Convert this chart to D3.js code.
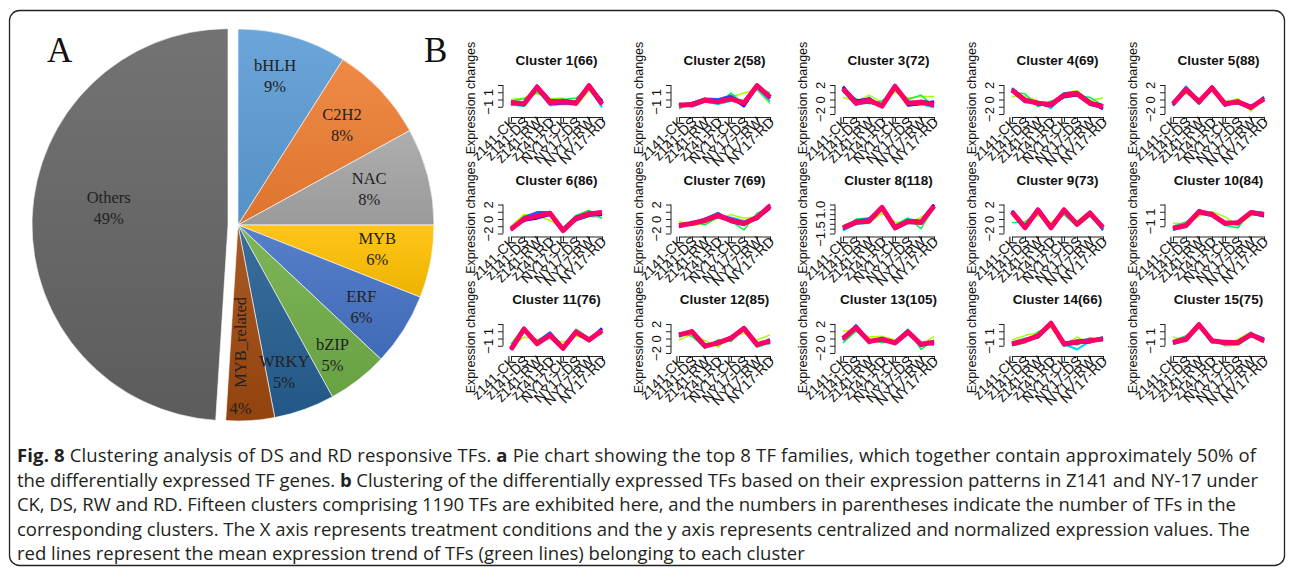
<!DOCTYPE html>
<html>
<head>
<meta charset="utf-8">
<script src="https://cdn.jsdelivr.net/npm/d3@7"></script>
<style>
  body { margin: 0; background: #fff; }
  svg { font-family: "Liberation Sans", Arial, sans-serif; }
</style>
</head>
<body>
<svg id="fig" width="1295" height="578"></svg>
<script>

// ---- panel A : pie ----
const pieLabels = ["bHLH", "C2H2", "NAC", "MYB", "ERF", "bZIP", "WRKY", "MYB_related", "Others"];
const pieValues = [9, 8, 8, 6, 6, 5, 5, 4, 49];
const pieColors = ["#5B9BD5", "#ED7D31", "#A5A5A5", "#FFC000", "#4472C4", "#70AD47", "#255E91", "#9E480E", "#636363"];

// ---- panel B : clusters ----
const conditions = ["z141-CK", "z141-DS", "z141-RW", "z141-RD", "NY17-CK", "NY17-DS", "NY17-RW", "NY17-RD"];
const clusterSizes = [66, 58, 72, 69, 88, 86, 69, 118, 73, 84, 76, 85, 105, 66, 75];
const axisTypes = ["a", "a", "b", "b", "b", "b", "b", "c", "b", "a", "a", "b", "b", "a", "a"];

// red line = cluster mean
const meanLines = [
  [-0.4, -0.6, 1.7, -0.4, -0.3, -0.5, 1.9, -0.6],
  [-0.8, -0.7, -0.1, -0.3, 0.1, -0.5, 1.9, 0.3],
  [1.5, -0.5, -0.1, -0.9, 1.8, -0.5, -0.4, -0.7],
  [1.3, -0.1, -0.5, -0.7, 0.6, 0.8, -0.5, -1.0],
  [-0.6, 1.4, -0.3, 1.6, -0.6, -0.3, -1.1, 0.1],
  [-1.4, 0.0, 0.4, 0.8, -1.6, 0.1, 0.7, 0.9],
  [-0.9, -0.6, -0.2, 0.5, -0.2, -0.6, 0.2, 1.8],
  [-0.9, -0.35, -0.2, 1.2, -0.9, -0.25, -0.35, 1.35],
  [1.0, -1.2, 1.25, -1.2, 1.25, -0.75, 0.8, -1.2],
  [-1.3, -0.9, 1.0, 0.6, -0.6, -0.5, 0.9, 0.6],
  [-1.5, 1.3, -0.7, 0.45, -1.35, 0.9, -0.2, 1.1],
  [0.5, 0.95, -1.05, -0.6, 0.05, 1.4, -0.85, -0.35],
  [0.0, 1.5, -0.4, -0.1, -0.6, 0.9, -0.8, -0.5],
  [-0.75, -0.3, 0.35, 2.1, -0.75, -0.5, -0.3, -0.05],
  [-0.55, -0.1, 1.9, -0.3, -0.55, -0.55, 0.55, -0.3]
];

// member genes, grouped by membership colour (low -> high)
const limeLines = [
  [0.0, 0.2, 0.8, 0.1, 0.2, -0.9, 1.2, -0.3],
  [-0.4, -0.9, 0.1, -0.1, 0.3, 0.9, 1.3, -0.6],
  [0.3, -0.3, 0.6, -0.4, 1.0, 0.2, 0.4, 0.4],
  [0.4, 0.5, -0.2, -1.1, 0.9, 1.2, -0.1, 0.2],
  [-0.2, 0.8, 0.1, 1.2, -0.3, 0.1, -1.6, 0.5],
  [-1.0, 0.6, 0.5, -0.2, -1.3, 0.4, 0.3, 0.2],
  [-0.3, -0.9, -0.6, 0.1, 0.6, 0.1, 0.3, 1.3],
  [-0.7, -0.1, -0.4, 0.6, -0.3, -0.5, 0.2, 1.0],
  [0.4, -0.6, 0.5, -0.5, 1.0, -0.3, 1.1, -0.9],
  [-0.6, -0.7, 0.4, 1.0, 0.3, -0.9, 0.5, 0.8],
  [-1.1, 0.2, -0.1, 0.0, -0.5, 0.3, 0.0, 1.0],
  [-0.2, 0.6, -0.3, -1.2, 0.4, 0.7, -0.2, 0.5],
  [1.0, 1.2, 0.2, 0.3, -0.2, 0.6, -0.9, 0.3],
  [-0.2, 0.4, 0.8, 1.5, -0.9, 0.2, -0.6, 0.0],
  [0.2, -0.3, 1.5, -0.4, -0.8, -0.1, 0.9, -0.6]
];
const greenLines = [
  [-0.2, 0.1, 1.0, 0.0, 0.0, 0.2, 1.5, -1.1],
  [-1.3, -0.4, 0.2, -0.7, 0.9, -0.6, 1.7, 0.9],
  [1.0, 0.1, -0.6, -0.2, 1.3, 0.0, 0.6, -1.0],
  [1.0, 0.8, -1.0, -0.2, 0.2, 0.5, 0.3, -0.8],
  [-0.9, 1.1, -0.7, 1.5, -0.2, -0.6, -0.8, -0.2],
  [-1.5, 0.4, 0.8, 0.6, -1.2, 0.5, 1.2, 0.1],
  [-1.2, -0.3, -0.8, 0.3, -0.3, -1.5, 0.8, 1.6],
  [-1.1, 0.0, 0.1, 1.0, -0.6, 0.1, -1.0, 1.2],
  [-0.5, -0.4, 0.9, -0.8, 0.6, -1.0, 0.4, -1.6],
  [-1.0, -0.4, 0.8, 0.7, -0.9, -1.2, 1.1, 0.3],
  [-0.8, 1.6, -1.0, 0.3, -1.1, 1.3, 0.1, 0.6],
  [0.8, 0.3, -1.3, -0.2, -0.4, 1.6, -1.2, -0.6],
  [-0.6, 1.0, -0.1, -0.6, -0.4, 1.3, -1.5, -0.2],
  [-1.0, -0.6, 0.9, 1.8, -0.4, -0.9, 0.1, -0.3],
  [-0.3, 0.4, 1.7, -0.1, -1.0, -0.9, 0.3, -0.2]
];
const cyanLines = [
  [-0.7, -0.9, 1.4, -0.8, -0.6, -0.7, 1.6, -1.0],
  [-0.6, -1.0, -0.3, -0.6, -0.2, -0.1, 1.5, -0.3],
  [1.2, -0.8, 0.3, -1.1, 1.5, -0.2, -0.6, -1.1],
  [1.6, -0.4, -0.3, -1.2, 0.7, 0.9, -0.8, -0.9],
  [-0.4, 1.8, -0.2, 1.7, -0.9, -0.1, -1.3, 0.3],
  [-1.2, -0.3, 0.7, 1.0, -1.8, -0.2, 0.4, 1.1],
  [-0.7, -0.8, 0.1, 0.4, 0.2, -0.3, -0.1, 1.9],
  [-1.2, -0.5, -0.4, 1.3, -1.1, -0.4, -0.5, 1.4],
  [1.2, -1.4, 1.1, -1.4, 1.5, -0.9, 0.6, -1.3],
  [-1.5, -1.1, 0.8, 0.4, -0.8, -0.3, 0.7, 0.5],
  [-1.3, 1.1, -0.9, 0.6, -1.4, 1.0, -0.4, 1.3],
  [0.2, 1.1, -0.8, -0.9, 0.3, 1.3, -0.6, -0.7],
  [0.2, 1.7, -0.7, 0.1, -0.8, 0.7, -0.6, -0.7],
  [-0.6, 0.0, 0.1, 1.9, -0.8, -1.5, -0.4, 0.2],
  [-0.8, -0.2, 1.8, -0.6, -0.3, -0.4, 0.8, -0.4]
];
const blueLines = [
  [-0.3, -0.8, 1.8, -0.2, -0.1, -0.3, 2.0, -0.3],
  [-0.9, -0.6, 0.1, 0.0, 0.5, -0.8, 2.0, 0.4],
  [1.8, -0.6, -0.4, -0.8, 2.0, -0.7, -0.2, -0.5],
  [1.5, 0.0, -0.7, -0.6, 0.8, 1.0, -0.3, -1.3],
  [-0.8, 1.5, -0.5, 1.8, -0.7, -0.4, -1.0, 0.0],
  [-1.5, 0.2, 0.9, 0.9, -1.7, 0.3, 0.8, 1.0],
  [-1.0, -0.5, 0.0, 0.8, -0.4, -0.8, 0.4, 1.7],
  [-0.8, -0.2, 0.0, 1.3, -0.8, -0.1, -0.2, 1.2],
  [0.8, -1.1, 1.4, -1.0, 1.2, -0.6, 1.0, -1.5],
  [-1.2, -1.0, 1.1, 0.5, -0.5, -0.7, 1.0, 0.8],
  [-1.6, 1.4, -0.5, 0.8, -1.2, 0.7, -0.1, 1.2],
  [0.6, 0.8, -1.2, -0.4, -0.1, 1.5, -1.0, -0.1],
  [-0.2, 1.8, -0.3, -0.3, -0.5, 1.1, -0.7, -0.8],
  [-0.9, -0.4, 0.4, 2.1, -0.7, -0.3, -0.2, -0.1],
  [-0.5, -0.3, 2.0, -0.2, -0.7, -0.6, 0.6, 0.0]
];
const navyLines = [
  [-0.6, -0.5, 1.6, -0.6, -0.5, -0.4, 1.8, -0.2],
  [-0.7, -0.8, -0.2, -0.2, 0.3, -0.9, 1.8, 0.5],
  [1.7, -0.2, 0.1, -1.0, 1.9, -0.8, -0.6, -0.3],
  [1.2, -0.3, -0.4, -0.8, 0.4, 0.6, -0.6, -1.2],
  [-0.5, 1.2, -0.1, 1.5, -0.5, -0.5, -1.2, 0.3],
  [-1.3, -0.2, 0.1, 0.6, -1.5, -0.1, 0.5, 0.6],
  [-0.8, -0.7, -0.3, 0.6, 0.0, -0.5, 0.1, 1.5],
  [-1.0, -0.4, -0.3, 1.1, -1.0, -0.3, -0.4, 1.5],
  [1.1, -1.3, 1.2, -1.3, 1.3, -0.8, 0.7, -1.0],
  [-1.4, -0.8, 0.9, 0.8, -0.7, -0.4, 0.8, 0.4],
  [-1.4, 1.2, -0.6, 0.4, -1.5, 0.8, -0.3, 1.4],
  [0.4, 1.0, -0.9, -0.7, 0.2, 1.2, -0.7, -0.5],
  [0.1, 1.4, -0.5, 0.0, -0.7, 0.8, -1.0, -0.4],
  [-0.7, -0.2, 0.2, 2.0, -0.9, -0.6, -0.5, 0.1],
  [-0.6, 0.1, 1.9, -0.4, -0.5, -0.7, 0.4, -0.2]
];
const purpleLines = [
  [-0.5, -0.7, 1.9, -0.1, -0.4, -0.6, 1.7, -0.7],
  [-0.8, -0.5, 0.0, -0.4, 0.0, -0.3, 2.0, 0.1],
  [1.4, -0.4, -0.2, -0.7, 1.7, -0.4, -0.3, -0.9],
  [1.4, 0.1, -0.6, -0.9, 0.5, 0.7, -0.4, -0.8],
  [-0.7, 1.6, -0.4, 1.6, -0.8, -0.2, -0.9, -0.1],
  [-1.6, 0.1, 0.3, 0.9, -1.4, 0.2, 0.9, 0.8],
  [-1.1, -0.6, -0.1, 0.3, -0.3, -0.7, 0.3, 2.0],
  [-0.9, -0.3, -0.1, 1.2, -0.9, -0.2, -0.3, 1.3],
  [0.9, -1.0, 1.3, -1.1, 1.1, -0.7, 0.9, -1.2],
  [-1.3, -0.9, 1.2, 0.6, -0.4, -0.6, 0.9, 0.7],
  [-1.5, 1.3, -0.8, 0.5, -1.3, 1.0, -0.2, 1.0],
  [0.5, 1.1, -1.1, -0.5, 0.0, 1.4, -0.9, -0.3],
  [-0.1, 1.6, -0.4, -0.2, -0.6, 1.0, -0.8, -0.5],
  [-0.8, -0.3, 0.4, 2.1, -0.6, -0.4, -0.3, -0.2],
  [-0.5, -0.1, 1.9, -0.3, -0.6, -0.5, 0.5, -0.4]
];

// y axis variants used by the R plots
const yTypes = {
  a: { domain: [-2, 2], ticks: [-1, 0, 1, 2], labels: [-1, 1], fmt: d3.format("d") },
  b: { domain: [-2, 2], ticks: [-2, -1, 0, 1, 2], labels: [-2, 0, 2], fmt: d3.format("d") },
  c: { domain: [-1.5, 1.5], ticks: [-1.5, -1, -0.5, 0, 0.5, 1, 1.5], labels: [-1.5, 1], fmt: d3.format(".1f") }
};

// ---- caption ----
const captionLines = [
  [["Fig. 8", true], [" Clustering analysis of DS and RD responsive TFs. ", false], ["a", true], [" Pie chart showing the top 8 TF families, which together contain approximately 50% of", false]],
  [["the differentially expressed TF genes. ", false], ["b", true], [" Clustering of the differentially expressed TFs based on their expression patterns in Z141 and NY-17 under", false]],
  [["CK, DS, RW and RD. Fifteen clusters comprising 1190 TFs are exhibited here, and the numbers in parentheses indicate the number of TFs in the", false]],
  [["corresponding clusters. The X axis represents treatment conditions and the y axis represents centralized and normalized expression values. The", false]],
  [["red lines represent the mean expression trend of TFs (green lines) belonging to each cluster", false]]
];
const captionWidths = [1239, 1241, 1219, 1233, null];


const svg = d3.select("#fig");

// outer frame
svg.append("rect")
    .attr("x", 9.5).attr("y", 10.5)
    .attr("width", 1275).attr("height", 555)
    .attr("rx", 10)
    .attr("fill", "none")
    .attr("stroke", "#222")
    .attr("stroke-width", 1.3);

// panel letters
svg.append("text").attr("x", 47).attr("y", 62).text("A")
    .style("font-family", "Liberation Serif").style("font-size", "35px").attr("fill", "#111");
svg.append("text").attr("x", 424).attr("y", 62).text("B")
    .style("font-family", "Liberation Serif").style("font-size", "35px").attr("fill", "#111");


/* * * * pie * * * */

const cx = 238, cy = 225, R = 196;
const pieData = d3.pie().sort(null).value(d => d)(pieValues);
const arc = d3.arc().innerRadius(0).outerRadius(R);

const defs = svg.append("defs");
pieColors.forEach((c, i) => {
    let gr = defs.append("linearGradient").attr("id", "pg" + i)
        .attr("x1", 0).attr("y1", 0).attr("x2", 0).attr("y2", 1);
    gr.append("stop").attr("offset", "0%").attr("stop-color", d3.interpolateRgb(c, "#fff")(0.1));
    gr.append("stop").attr("offset", "100%").attr("stop-color", d3.color(c).darker(0.2));
});

const othersIdx = pieLabels.indexOf("Others");
const midAngle = d => (d.startAngle + d.endAngle) / 2;
const polar = (a, r) => [Math.sin(a) * r, -Math.cos(a) * r];

// hand nudges for the Excel label placement
const labelShift = [[-5, -3], [-6, 4], [-15, 3], [-9, -3], [-4, 2], [2, 12], [-5, 6], [0, 0], [8, -12]];

const pieG = svg.append("g").attr("transform", `translate(${cx},${cy})`);

pieG.selectAll("path.slice")
    .data(pieData)
    .join("path")
    .attr("class", "slice")
    .attr("d", arc)
    .attr("fill", (d, i) => `url(#pg${i})`)
    .attr("stroke", "#fff")
    .attr("stroke-width", 0.6)
    .attr("transform", (d, i) => {
        if (i !== othersIdx) return null;
        let [ox, oy] = polar(midAngle(d), 10);
        return `translate(${ox},${oy})`;
    });

// slice labels
pieData.forEach((d, i) => {
    let name = pieLabels[i], pct = pieValues[i] + "%";
    let addText = (sel) => sel.append("text")
        .style("font-family", "'Liberation Serif', serif")
        .style("font-size", "16.5px")
        .attr("fill", "#222")
        .attr("text-anchor", "middle");

    if (name === "MYB_related") {
        let [nx, ny] = polar(midAngle(d), R * 0.6);
        addText(pieG).attr("transform", `translate(${nx + 1},${ny}) rotate(-90)`).text(name);
        let [px, py] = polar(midAngle(d), R * 0.94);
        addText(pieG).attr("x", px - 9).attr("y", py + 5).text(pct);
        return;
    }
    let frac = name === "Others" ? 0.65 : 0.77;
    let [lx, ly] = polar(midAngle(d), R * frac);
    if (i === othersIdx) lx -= 10;
    lx += labelShift[i][0];
    ly += labelShift[i][1];
    addText(pieG).attr("x", lx).attr("y", ly - 6).text(name);
    addText(pieG).attr("x", lx).attr("y", ly + 15).text(pct);
});


/* * * * cluster panels * * * */

const colAxisX = [503, 671, 835, 1004, 1165];
const rowTop = [0, 119.5, 239];

const lineSets = [
    { data: limeLines, color: "#a6ff00", w: 1.5 },
    { data: greenLines, color: "#00f53d", w: 1.5 },
    { data: cyanLines, color: "#00d5ff", w: 2.2 },
    { data: blueLines, color: "#0a64ff", w: 2.8 },
    { data: navyLines, color: "#2200ff", w: 2.8 },
    { data: purpleLines, color: "#a000ff", w: 2.8 },
    { data: meanLines, color: "#ff0066", w: 5 }
];

const x = d3.scalePoint().domain(conditions).range([8, 99]);

clusterSizes.forEach((n, i) => {
    let col = i % 5, row = Math.floor(i / 5);
    let t = yTypes[axisTypes[i]];
    let y = d3.scaleLinear().domain(t.domain).range([114, 85]);

    let g = svg.append("g").attr("transform", `translate(${colAxisX[col]},${rowTop[row]})`);

    // title
    g.append("text")
        .attr("x", (x.range()[0] + x.range()[1]) / 2)
        .attr("y", 65)
        .attr("text-anchor", "middle")
        .style("font-weight", "bold")
        .style("font-size", "13.5px")
        .attr("fill", "#111")
        .text(`Cluster ${i + 1}(${n})`);

    // y label
    g.append("text")
        .attr("transform", "translate(-28,98) rotate(-90)")
        .attr("text-anchor", "middle")
        .style("font-size", "12.5px")
        .attr("fill", "#111")
        .text("Expression changes");

    // lines
    let line = d3.line().x((v, k) => x(conditions[k])).y(v => y(v));
    lineSets.forEach(s => {
        g.append("path")
            .attr("d", line(s.data[i]))
            .attr("fill", "none")
            .attr("stroke", s.color)
            .attr("stroke-width", s.w)
            .attr("stroke-linejoin", "round");
    });

    // y axis (R style: line only between end ticks)
    let yAxis = g.append("g")
        .call(d3.axisLeft(y).tickValues(t.ticks).tickSize(5)
            .tickFormat(v => t.labels.includes(v) ? t.fmt(v) : ""));
    yAxis.select(".domain").remove();
    yAxis.append("line")
        .attr("y1", y(t.ticks[0])).attr("y2", y(t.ticks[t.ticks.length - 1]));
    yAxis.selectAll("line").attr("stroke", "#222");
    yAxis.selectAll("text")
        .attr("x", 0).attr("y", -10).attr("dy", 0)
        .attr("transform", "rotate(-90)")
        .attr("text-anchor", "middle")
        .style("font-size", "13px")
        .style("font-family", "'Liberation Sans'")
        .attr("fill", "#111");

    // x axis
    let xAxis = g.append("g")
        .attr("transform", "translate(0,117)")
        .call(d3.axisBottom(x).tickSize(5).tickSizeOuter(0));
    xAxis.selectAll("path, line").attr("stroke", "#222");
    xAxis.selectAll("text")
        .attr("x", 0).attr("y", 0).attr("dy", 0)
        .attr("transform", "translate(5,6) rotate(-45)")
        .attr("text-anchor", "end")
        .style("font-size", "14px")
        .style("font-family", "'Liberation Sans'")
        .attr("fill", "#111");
});


/* * * * caption * * * */

captionLines.forEach((segs, k) => {
    let txt = svg.append("text")
        .attr("x", 17)
        .attr("y", 462 + k * 24.5)
        .style("font-family", "'Open Sans'")
        .style("font-size", "18.5px")
        .attr("fill", "#231f20");
    segs.forEach(([s, b]) => {
        txt.append("tspan").style("font-weight", b ? "bold" : "normal").text(s);
    });
    if (captionWidths[k]) {
        txt.attr("textLength", captionWidths[k]).attr("lengthAdjust", "spacing");
    }
});

</script>
</body>
</html>
